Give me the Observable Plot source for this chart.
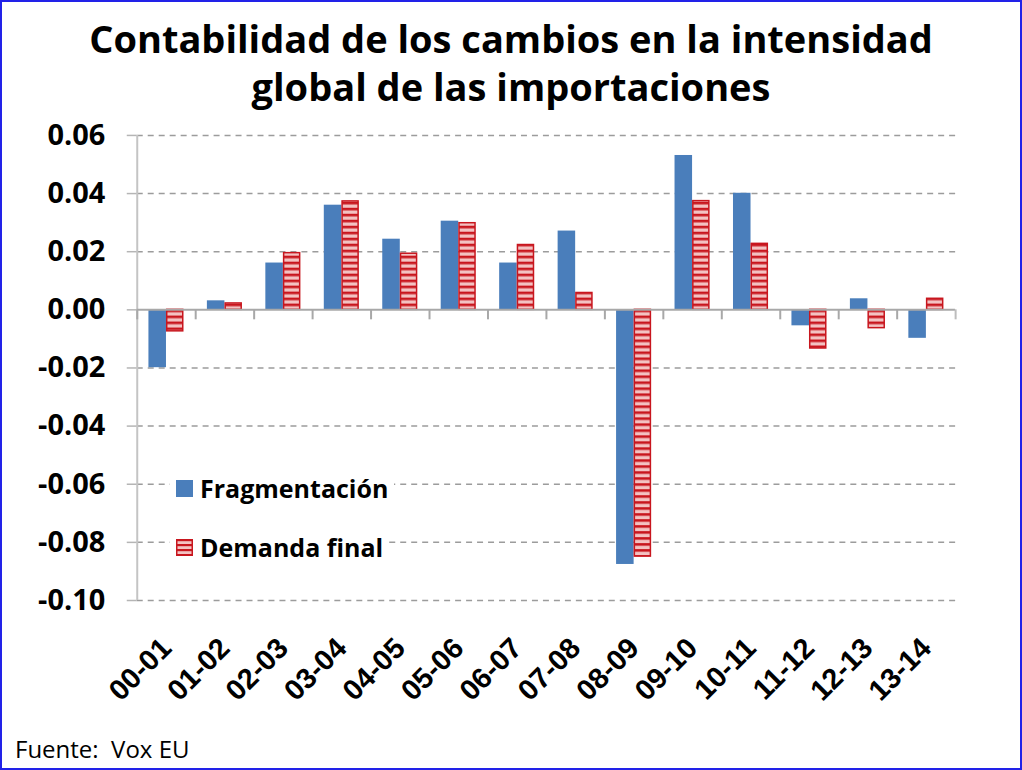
<!DOCTYPE html>
<html><head><meta charset="utf-8">
<script src="https://cdn.jsdelivr.net/npm/d3@7"></script>
<script src="https://cdn.jsdelivr.net/npm/@observablehq/plot@0.6"></script>
<style>
html,body{margin:0;padding:0;background:#fff;}
#wrap{position:relative;width:1022px;height:770px;box-sizing:border-box;border:2px solid #2222e8;overflow:hidden;background:#fff;}
#title{position:absolute;left:0;right:0;top:12px;text-align:center;font:bold 38px/48px "Open Sans";color:#000;}
#chart{position:absolute;left:-2px;top:98px;}
#legend{position:absolute;left:168px;top:466px;width:224px;height:96px;}
.row{position:absolute;left:0;height:30px;display:flex;align-items:center;background:#fff;padding-left:6px;padding-right:6px;}
.row span{font:bold 25px "Open Sans";color:#000;margin-left:7px;white-space:nowrap;}
#footer{position:absolute;left:13px;top:733px;font:24px/28px "Open Sans";color:#000;white-space:pre;}
</style></head>
<body>
<div id="wrap">
  <div id="title">Contabilidad de los cambios en la intensidad<br>global de las importaciones</div>
  <div id="chart"></div>
  <div id="legend"></div>
  <div id="footer"></div>
</div>
<script>
const periods = ["00-01","01-02","02-03","03-04","04-05","05-06","06-07","07-08","08-09","09-10","10-11","11-12","12-13","13-14"];
const fragmentacion = [-0.0199, 0.0031, 0.0161, 0.0360, 0.0243, 0.0305, 0.0161, 0.0271, -0.0876, 0.0531, 0.0401, -0.0055, 0.0038, -0.0098];
const demandaFinal = [-0.0074, 0.0022, 0.0195, 0.0373, 0.0193, 0.0298, 0.0223, 0.0058, -0.0849, 0.0374, 0.0227, -0.0133, -0.0063, 0.0038];
const seriesNames = ["Fragmentación", "Demanda final"];
const yTicks = [-0.10, -0.08, -0.06, -0.04, -0.02, 0.00, 0.02, 0.04, 0.06];
const footerText = "Fuente:  Vox EU";

const W = 1022, H = 640, ML = 137, MR = 65, MT = 35, MB = 139;
const step = (W - ML - MR) / periods.length;
const bw = step * 0.6;
const pxPerUnit = (H - MT - MB) / 0.16;
const TICK = 10 / pxPerUnit;

const data = periods.map((p, i) => ({p, f: fragmentacion[i], d: demandaFinal[i]}));

const chart = Plot.plot({
  width: W, height: H,
  marginLeft: ML, marginRight: MR, marginTop: MT, marginBottom: MB,
  style: {background: "transparent", overflow: "visible"},
  x: {domain: periods, paddingInner: 0.4, paddingOuter: 0.2, round: false, label: null},
  y: {domain: [-0.10, 0.06], label: null},
  marks: [
    Plot.ruleY(yTicks.filter(d => d !== 0), {stroke: "#9c9c9c", strokeWidth: 1.5, strokeDasharray: "6,5"}),
    Plot.ruleY(yTicks, {stroke: "#b5b5b5", strokeWidth: 1.5, insetLeft: -10, insetRight: W - ML - MR}),
    Plot.axisY(yTicks, {tickSize: 0, tickPadding: 32, tickFormat: d => d.toFixed(2), fontSize: 29, fontWeight: "bold", fontFamily: "Open Sans", fill: "#000", label: null}),
    Plot.ruleX([periods[0]], {dx: -step / 2, stroke: "#c4c4c4", strokeWidth: 2}),
    Plot.barY(data, {x: "p", y: "f", fill: "#4a7ebb", insetRight: bw / 2}),
    Plot.barY(data, {x: "p", y: "d", fill: "url(#stripes)", stroke: "#c8161e", strokeWidth: 1.5, insetLeft: bw / 2 + 0.75, insetRight: 0.75}),
    Plot.ruleY([0], {stroke: "#a8a8a8", strokeWidth: 2}),
    Plot.ruleX(periods, {dx: -step / 2, y1: 0, y2: -TICK, stroke: "#a8a8a8", strokeWidth: 2}),
    Plot.ruleX([periods[periods.length - 1]], {dx: step / 2, y1: 0, y2: -TICK, stroke: "#bdbdbd", strokeWidth: 2}),
    Plot.axisX({tickSize: 0, tickPadding: 43, tickRotate: -45, fontSize: 29, fontWeight: "bold", fontFamily: "Liberation Sans", fill: "#000", label: null})
  ]
});

const NS = "http://www.w3.org/2000/svg";
function addPattern(svg, id) {
  const defs = document.createElementNS(NS, "defs");
  const pat = document.createElementNS(NS, "pattern");
  pat.setAttribute("id", id);
  pat.setAttribute("patternUnits", "userSpaceOnUse");
  pat.setAttribute("width", "8");
  pat.setAttribute("height", "6");
  const bg = document.createElementNS(NS, "rect");
  bg.setAttribute("width", "8"); bg.setAttribute("height", "6"); bg.setAttribute("fill", "#f3c2c2");
  const ln = document.createElementNS(NS, "rect");
  ln.setAttribute("width", "8"); ln.setAttribute("height", "2.6"); ln.setAttribute("fill", "#c8161e");
  pat.appendChild(bg); pat.appendChild(ln);
  defs.appendChild(pat);
  svg.insertBefore(defs, svg.firstChild);
}
addPattern(chart, "stripes");
document.getElementById("chart").appendChild(chart);

// legend
const legend = document.getElementById("legend");
const rows = [
  {name: seriesNames[0], top: 5, sw: '<svg width="17" height="17"><rect width="17" height="17" fill="#4a7ebb"/></svg>'},
  {name: seriesNames[1], top: 64, sw: '<svg width="17" height="17"><defs><pattern id="stripesL" patternUnits="userSpaceOnUse" width="8" height="5"><rect width="8" height="5" fill="#f3c2c2"/><rect width="8" height="2.2" fill="#c8161e"/></pattern></defs><rect x="0.75" y="0.75" width="15.5" height="15.5" fill="url(#stripesL)" stroke="#c8161e" stroke-width="1.5"/></svg>'}
];
rows.forEach(r => {
  const div = document.createElement("div");
  div.className = "row";
  div.style.top = r.top + "px";
  div.innerHTML = r.sw + '<span></span>';
  div.querySelector("span").textContent = r.name;
  legend.appendChild(div);
});
document.getElementById("footer").textContent = footerText;
</script>
</body></html>
